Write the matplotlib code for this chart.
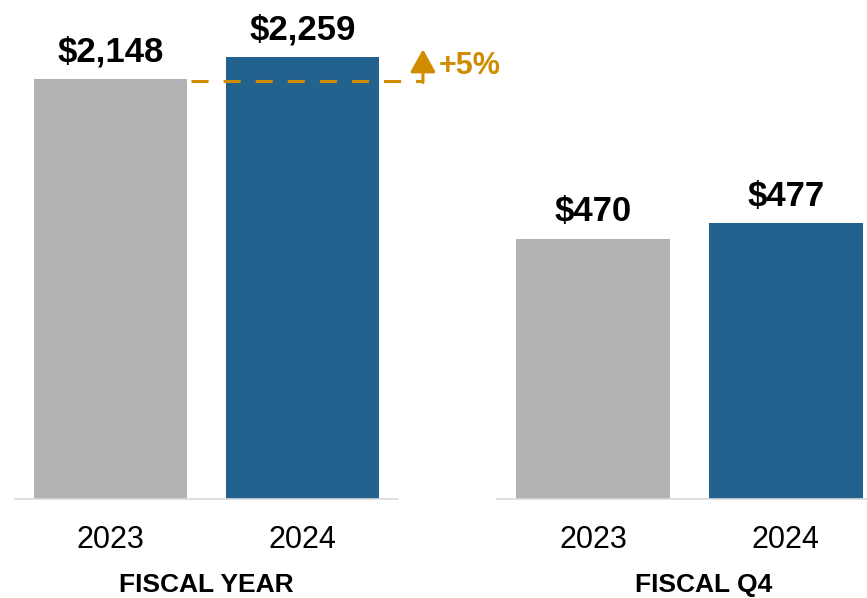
import matplotlib.pyplot as plt
import matplotlib.transforms as mtransforms

plt.rcParams['font.family'] = ['Liberation Sans', 'DejaVu Sans']

years = ['2023', '2024']
fy_values = [2148, 2259]
q4_values = [470, 477]
panel_titles = ['FISCAL YEAR', 'FISCAL Q4']
growth_label = '+5%'

bar_colors = ['#B2B2B2', '#23618F']
gold = '#D08C00'
axis_gray = '#D9D9D9'

fig = plt.figure(figsize=(8.67, 5.98), dpi=100)
ax1 = fig.add_axes([0.0173, 0.1656, 0.4418, 0.8344])
ax2 = fig.add_axes([0.5732, 0.1656, 0.4441, 0.8344])
ax1.set_zorder(3)
ax1.patch.set_visible(False)
ax2.patch.set_visible(False)

x = [0, 1]


def draw_panel(ax, values, ylim):
    bars = ax.bar(x, values, width=0.8, color=bar_colors)
    ax.set_xlim(-0.5, 1.5)
    ax.set_ylim(*ylim)
    for b, v in zip(bars, values):
        ax.annotate(f"${v:,}", (b.get_x() + b.get_width() / 2, v),
                    xytext=(0, 12.5), textcoords='offset points',
                    ha='center', va='baseline', fontsize=25, fontweight='bold')
    for s in ['top', 'left', 'right']:
        ax.spines[s].set_visible(False)
    ax.spines['bottom'].set_color(axis_gray)
    ax.spines['bottom'].set_linewidth(1.2)
    ax.set_yticks([])
    ax.set_xticks(x)
    ax.set_xticklabels(years, fontsize=22)
    ax.tick_params(axis='x', length=0, pad=18.5)


draw_panel(ax1, fy_values, (0, 2552))
draw_panel(ax2, q4_values, (351, 579))

# growth marker on the fiscal year panel, drawn a hair below the 2023 bar top
shift = ax1.transData + mtransforms.ScaledTranslation(0, -2 / 100, fig.dpi_scale_trans)
x_end = 1.63
ax1.plot([0.42, x_end], [fy_values[0], fy_values[0]], color=gold, lw=2.2,
         linestyle=(0, (5.6, 4.9)), clip_on=False, dash_capstyle='butt',
         transform=shift)
ax1.annotate('', xy=(x_end, 2300), xytext=(x_end, fy_values[0] - 18),
             arrowprops=dict(arrowstyle='-|>,head_length=14,head_width=7.8',
                             mutation_scale=1, color=gold, lw=2.2,
                             shrinkA=0, shrinkB=0),
             annotation_clip=False)
ax1.text(1.714, 2215, growth_label, color=gold, fontsize=22, fontweight='bold',
         ha='left', va='center', clip_on=False)

fig.text(206 / 867, 1 - 585 / 598, panel_titles[0], ha='center', va='center',
         fontsize=19, fontweight='bold')
fig.text(704 / 867, 1 - 585 / 598, panel_titles[1], ha='center', va='center',
         fontsize=19, fontweight='bold')

fig.savefig('out.png', dpi=100)
